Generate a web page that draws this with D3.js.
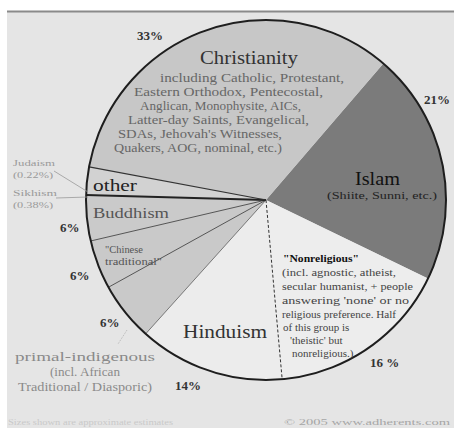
<!DOCTYPE html>
<html>
<head>
<meta charset="utf-8">
<script src="https://cdn.jsdelivr.net/npm/d3@7"></script>
<style>
  html, body { margin: 0; padding: 0; background: #fff; }
  svg { display: block; }
  text { font-family: "Times New Roman", "Liberation Serif", Times, serif; }
</style>
</head>
<body>
<script>
const width = 454;
const height = 428;

// slice order is clockwise, starting at the Christianity / Islam edge
const religions = ['Islam', 'Nonreligious', 'Hinduism', 'Primal-indigenous', 'Chinese traditional', 'Buddhism', 'Other', 'Christianity'];
const shares = [20.9, 16.4, 13.1, 5.3, 4.4, 4.1, 2.5, 33.4];
const shareLabels = ['21%', '16 %', '14%', '6%', '6%', '6%', '', '33%'];
const minorGroups = ['Judaism', 'Sikhism'];
const minorLabels = ['(0.22%)', '(0.38%)'];

const fills = {
  'Islam': '#7b7b7b',
  'Nonreligious': '#ededed',
  'Hinduism': '#ececec',
  'Primal-indigenous': '#c9c9c9',
  'Chinese traditional': '#c9c9c9',
  'Buddhism': '#cacaca',
  'Other': '#d2d2d2',
  'Christianity': '#c7c7c7'
};
// line drawn on the starting edge of each slice
const edges = {
  'Islam': null,
  'Nonreligious': null,
  'Hinduism': {w: 1, c: '#333', dash: '3,2'},
  'Primal-indigenous': {w: 1, c: '#777'},
  'Chinese traditional': {w: 1, c: '#555'},
  'Buddhism': {w: 1, c: '#555'},
  'Other': {w: 2, c: '#222'},
  'Christianity': {w: 1.2, c: '#333'}
};

const cx = 266, cy = 200, r = 180;
const start = 40.7 * Math.PI / 180;

const svg = d3.select('body').append('svg')
  .attr('width', width)
  .attr('height', height)
  .attr('viewBox', `0 0 ${width} ${height}`);

// page background + top rule
svg.append('rect').attr('x', 7).attr('y', 11).attr('width', width - 7).attr('height', height - 11).attr('fill', '#e5e5e5');
svg.append('line').attr('x1', 7).attr('x2', width).attr('y1', 11.5).attr('y2', 11.5).attr('stroke', '#8a8a8a').attr('stroke-width', 2);

const pie = d3.pie().sort(null).value(d => d).startAngle(start).endAngle(start + 2 * Math.PI);
const arcs = pie(shares);
const arc = d3.arc().innerRadius(0).outerRadius(r);

const g = svg.append('g').attr('transform', `translate(${cx},${cy})`);

g.selectAll('path.slice')
  .data(arcs)
  .join('path')
  .attr('class', 'slice')
  .attr('d', arc)
  .attr('fill', (d, i) => fills[religions[i]]);

// radial edges
g.selectAll('line.edge')
  .data(arcs.filter((d, i) => edges[religions[i]]))
  .join('line')
  .attr('class', 'edge')
  .each(function(d) {
    const e = edges[religions[d.index]];
    d3.select(this)
      .attr('x1', 0).attr('y1', 0)
      .attr('x2', r * Math.sin(d.startAngle))
      .attr('y2', -r * Math.cos(d.startAngle))
      .attr('stroke', e.c)
      .attr('stroke-width', e.w)
      .attr('stroke-dasharray', e.dash || null);
  });

g.append('circle').attr('r', r).attr('fill', 'none').attr('stroke', '#1e1e1e').attr('stroke-width', 2);

// percentage labels outside the pie
const pctPos = [[424, 104], [370, 367], [175, 390], [100, 327], [70, 280], [60, 232], null, [137, 40]];
svg.selectAll('text.pct')
  .data(shareLabels.map((s, i) => ({s: s, p: pctPos[i]})).filter(d => d.p))
  .join('text')
  .attr('class', 'pct')
  .attr('x', d => d.p[0])
  .attr('y', d => d.p[1])
  .attr('font-size', 13)
  .attr('font-weight', 'bold')
  .attr('fill', '#333')
  .text(d => d.s);

// helper for block text: [text, x, y, width]
function block(lines, size, color, weight) {
  lines.forEach(l => {
    const t = svg.append('text')
      .attr('x', l[1]).attr('y', l[2])
      .attr('font-size', size)
      .attr('fill', color)
      .attr('font-weight', weight || 'normal')
      .text(l[0]);
    if (l[3]) t.attr('textLength', l[3]).attr('lengthAdjust', 'spacingAndGlyphs');
  });
}

block([['Christianity', 200, 64, 98]], 18, '#333');
block([
  ['including Catholic, Protestant,', 160, 82, 184],
  ['Eastern Orthodox, Pentecostal,', 134, 96, 189],
  ['Anglican, Monophysite, AICs,', 140, 110, 161],
  ['Latter-day Saints, Evangelical,', 128, 124, 181],
  ['SDAs, Jehovah\'s Witnesses,', 118, 138, 164],
  ['Quakers, AOG, nominal, etc.)', 114, 152, 168]
], 11.5, '#666');

block([['Islam', 355, 185, 45]], 18, '#111');
block([['(Shiite, Sunni, etc.)', 327, 199, 110]], 11, '#222');

block([['other', 93, 191, 44]], 17, '#222');
block([['Buddhism', 93, 218, 76]], 14, '#555');
block([['"Chinese', 105, 253, 38], ['traditional"', 105, 265, 57]], 10, '#555');

block([['Hinduism', 183, 338, 84]], 19, '#333');

block([['"Nonreligious"', 283, 262, 76]], 11, '#111', 'bold');
block([
  ['(incl. agnostic, atheist,', 282, 276, 114],
  ['secular humanist, + people', 282, 290, 131],
  ['answering \'none\' or no', 282, 304, 127],
  ['religious preference. Half', 282, 318, 114],
  ['of this group is', 283, 331],
  ['\'theistic\' but', 290, 344],
  ['nonreligious.)', 292, 357]
], 11, '#444');

block([
  ['primal-indigenous', 15, 361, 140],
  ['(incl. African', 50, 376, 70],
  ['Traditional / Diasporic)', 18, 391, 134]
], 13, '#8a8a8a');

// Judaism / Sikhism callouts
block([
  [minorGroups[0], 13, 166, 42], [minorLabels[0], 13, 178, 40],
  [minorGroups[1], 13, 196, 44], [minorLabels[1], 13, 208, 40]
], 9, '#9a9a9a');
svg.append('line').attr('x1', 54).attr('y1', 171).attr('x2', 88).attr('y2', 192).attr('stroke', '#999').attr('stroke-width', 0.8);
svg.append('line').attr('x1', 56).attr('y1', 198).attr('x2', 88).attr('y2', 197).attr('stroke', '#999').attr('stroke-width', 0.8);
svg.append('line').attr('x1', 127).attr('y1', 330).attr('x2', 118).attr('y2', 344).attr('stroke', '#aaa').attr('stroke-width', 0.8).attr('stroke-dasharray', '1,1');

// footer
block([['Sizes shown are approximate estimates', 8, 425, 165]], 9, '#c9c9c9');
block([['© 2005 www.adherents.com', 284, 425, 166]], 9, '#a5a5a5');
</script>
</body>
</html>
